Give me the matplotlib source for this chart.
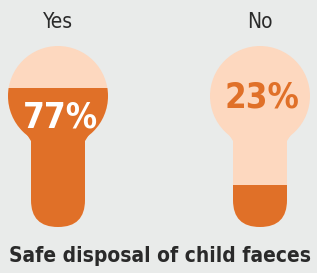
import matplotlib.pyplot as plt
from matplotlib.patches import Circle, FancyBboxPatch, Rectangle, Polygon

labels = ["Yes", "No"]
values = [77, 23]
title = "Safe disposal of child faeces"

bg = "#e9ebea"
light = "#fdd8bf"
orange = "#e07028"
font = ["DejaVu Sans Condensed", "Liberation Sans Narrow", "DejaVu Sans"]

fig = plt.figure(figsize=(3.17, 2.73), dpi=100, facecolor=bg)
ax = fig.add_axes([0, 0, 1, 1])
ax.set_xlim(0, 317)
ax.set_ylim(273, 0)
ax.set_aspect("equal")
ax.axis("off")

# shape geometry (pixels)
centers = [58, 260]
top, bottom = 46, 227
radius = 50
stem_w = 54


def bulb(cx, color):
    cy = top + radius
    stem = FancyBboxPatch((cx - stem_w / 2, cy), stem_w, bottom - cy,
                          boxstyle="round,pad=0,rounding_size=27",
                          facecolor=color, edgecolor="none")
    neck = Polygon([(cx - 32, cy + 37), (cx + 32, cy + 37),
                    (cx + stem_w / 2, cy + 45), (cx - stem_w / 2, cy + 45)],
                   facecolor=color, edgecolor="none")
    circ = Circle((cx, cy), radius, facecolor=color, edgecolor="none")
    return [stem, neck, circ]


for cx, lab, val in zip(centers, labels, values):
    for p in bulb(cx, light):
        ax.add_patch(p)
    level = bottom - val / 100 * (bottom - top)
    clip = Rectangle((0, level), 317, bottom - level + 5,
                     transform=ax.transData)
    for p in bulb(cx, orange):
        ax.add_patch(p)
        p.set_clip_path(clip)

    ax.text(cx, 22, lab, ha="center", va="center", fontsize=15,
            color="#2a2a2a", family=font, fontstretch="condensed")
    txt_y = 118 if val > 50 else 97
    txt_c = "white" if val > 50 else orange
    ax.text(cx + 2, txt_y, f"{val}%", ha="center", va="center", fontsize=25,
            fontweight="bold", color=txt_c, family=font,
            fontstretch="condensed")

ax.text(160, 256, title, ha="center", va="center", fontsize=15,
        fontweight="bold", color="#2a2a2a", family=font,
        fontstretch="condensed")

fig.savefig("out.png", dpi=100, facecolor=bg)
